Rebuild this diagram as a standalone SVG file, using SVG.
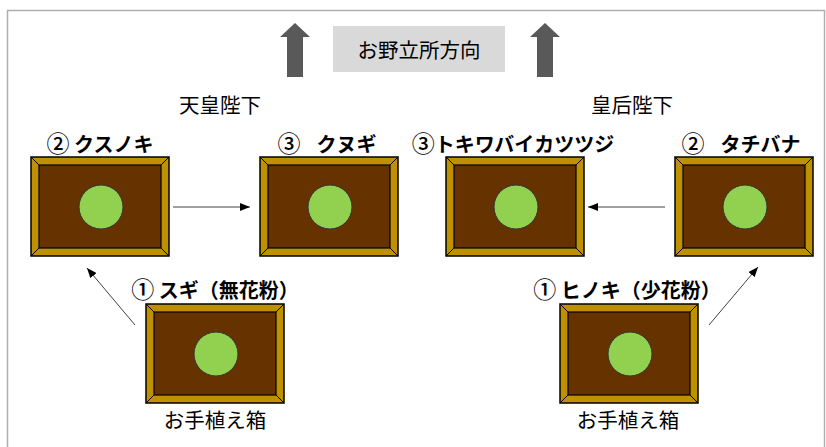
<svg xmlns="http://www.w3.org/2000/svg" xmlns:xlink="http://www.w3.org/1999/xlink" width="826" height="447" viewBox="0 0 826 447">
<style>
.t{font-family:"Noto Sans CJK JP","Noto Sans",sans-serif;fill:#000;text-anchor:middle}
.lbl{font-size:20px;font-weight:bold}
.cap{font-size:20.5px}
.num{font-size:23px;font-weight:500}
.con{stroke:#404040;stroke-width:1;fill:none;marker-end:url(#ah)}
</style>
<defs>
<marker id="ah" viewBox="0 0 10 8" refX="10" refY="4" markerWidth="10" markerHeight="8" markerUnits="userSpaceOnUse" orient="auto">
<path d="M0,0 L10,4 L0,8 Z" fill="#000"/>
</marker>
<g id="planter">
<rect x="0" y="0" width="138" height="99" fill="#bf9000" stroke="#000" stroke-width="1.5"/>
<rect x="8" y="8" width="122" height="83" fill="#663300" stroke="#000" stroke-width="1.2"/>
<path d="M0,0 L8,8 M138,0 L130,8 M0,99 L8,91 M138,99 L130,91" stroke="#000" stroke-width="1"/>
<circle cx="70" cy="50" r="22" fill="#92d050" stroke="#333" stroke-width="1"/>
</g>
<path id="uparrow" d="M0,14 L15,0 L30,14 L23,14 L23,54 L7,54 L7,14 Z" fill="#595959"/>
</defs>
<rect x="7.5" y="10.5" width="817" height="460" fill="#fff" stroke="#b0b0b0" stroke-width="1.5"/>
<g id="north">
<use xlink:href="#uparrow" x="280" y="23"/>
<use xlink:href="#uparrow" x="530" y="23"/>
<rect x="333" y="26" width="172" height="46" fill="#d9d9d9"/>
<text class="t cap" x="419" y="58" font-size="21">お野立所方向</text>
</g>
<g id="emperor-label"><text class="t cap" x="220" y="113">天皇陛下</text></g>
<g id="empress-label"><text class="t cap" x="632" y="113">皇后陛下</text></g>
<g id="node-kusunoki">
<use xlink:href="#planter" x="31" y="157"/>
<text class="t lbl" x="100" y="152"><tspan class="num">②</tspan> クスノキ</text>
</g>
<g id="node-kunugi">
<use xlink:href="#planter" x="260" y="157"/>
<text class="t lbl" x="327" y="152"><tspan class="num">③</tspan><tspan dx="16">クヌギ</tspan></text>
</g>
<g id="node-tokiwa">
<use xlink:href="#planter" x="446" y="157"/>
<text class="t lbl" x="513" y="152"><tspan class="num">③</tspan>トキワバイカツツジ</text>
</g>
<g id="node-tachibana">
<use xlink:href="#planter" x="675" y="157"/>
<text class="t lbl" x="741" y="152"><tspan class="num">②</tspan><tspan dx="16">タチバナ</tspan></text>
</g>
<g id="node-sugi">
<use xlink:href="#planter" x="146" y="304"/>
<text class="t lbl" x="215" y="298"><tspan class="num">①</tspan> スギ（無花粉）</text>
<text class="t cap" x="215" y="428">お手植え箱</text>
</g>
<g id="node-hinoki">
<use xlink:href="#planter" x="560" y="304"/>
<text class="t lbl" x="627" y="298"><tspan class="num">①</tspan> ヒノキ（少花粉）</text>
<text class="t cap" x="628" y="428">お手植え箱</text>
</g>
<g id="connectors">
<line class="con" x1="173" y1="207" x2="250" y2="207"/>
<line class="con" x1="665" y1="207" x2="588" y2="207"/>
<line class="con" x1="135" y1="325" x2="87" y2="268"/>
<line class="con" x1="709" y1="325" x2="758" y2="267"/>
</g>
</svg>
